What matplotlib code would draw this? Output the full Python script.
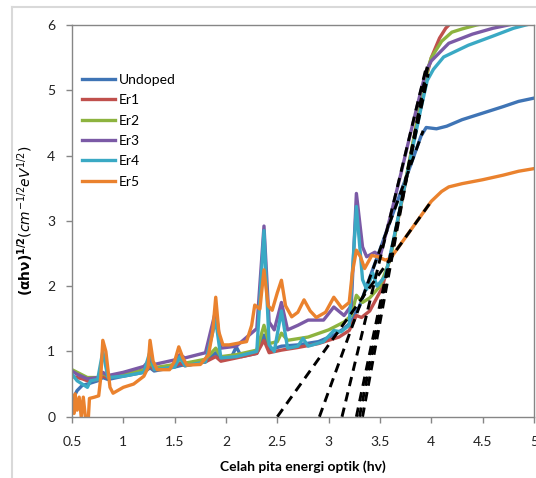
import numpy as np
import matplotlib
matplotlib.use('Agg')
import matplotlib.pyplot as plt
from matplotlib.lines import Line2D

plt.rcParams['font.family'] = ['Lato', 'DejaVu Sans']
plt.rcParams['mathtext.fontset'] = 'dejavusans'

# --- Tauc plot data: photon energy (eV) vs (alpha*h*nu)^(1/2) ---
undoped_x = [0.5, 0.55, 0.6, 0.65, 0.75, 0.8, 0.85, 1.0, 1.2, 1.26, 1.3, 1.5, 1.6, 1.8, 1.9, 1.95,
             2.05, 2.1, 2.15, 2.3, 2.37, 2.42, 2.54, 2.7, 2.9, 3.05, 3.15, 3.22, 3.27, 3.3, 3.4, 3.5,
             3.6, 3.7, 3.8, 3.9, 3.95, 4.05, 4.15, 4.3, 4.5, 4.7, 4.85, 5.0]
undoped_y = [0.25, 0.4, 0.48, 0.5, 0.55, 0.6, 0.57, 0.62, 0.68, 0.75, 0.7, 0.76, 0.8, 0.84, 0.98, 0.86,
             0.9, 1.07, 0.92, 0.97, 1.25, 1.02, 1.08, 1.1, 1.15, 1.25, 1.35, 1.45, 1.62, 1.69, 2.13, 2.56,
             3.0, 3.43, 3.86, 4.3, 4.43, 4.41, 4.45, 4.55, 4.65, 4.75, 4.83, 4.88]

er1_x = [0.5, 0.6, 0.65, 0.75, 0.8, 0.85, 1.0, 1.2, 1.26, 1.3, 1.5, 1.55, 1.6, 1.8, 1.9, 1.95, 2.1,
         2.3, 2.37, 2.42, 2.54, 2.7, 2.9, 3.1, 3.2, 3.27, 3.32, 3.4, 3.52, 3.6, 3.7, 3.8, 3.9, 3.95,
         4.0, 4.08, 4.14, 4.22]
er1_y = [0.62, 0.58, 0.55, 0.57, 0.62, 0.6, 0.64, 0.7, 0.78, 0.72, 0.77, 0.82, 0.78, 0.84, 0.92, 0.85, 0.9,
         0.97, 1.17, 0.98, 1.02, 1.06, 1.12, 1.22, 1.32, 1.55, 1.52, 1.62, 1.97, 2.45, 3.2, 4.0, 4.85, 5.2,
         5.5, 5.8, 5.95, 6.08]

er2_x = [0.5, 0.55, 0.65, 0.75, 0.8, 0.85, 1.0, 1.2, 1.26, 1.3, 1.5, 1.55, 1.6, 1.8, 1.9, 1.95, 2.1,
         2.3, 2.37, 2.42, 2.5, 2.54, 2.6, 2.8, 3.0, 3.15, 3.22, 3.27, 3.33, 3.4, 3.5, 3.6, 3.7, 3.8,
         3.9, 3.97, 4.0, 4.1, 4.2, 4.3, 4.44, 4.6]
er2_y = [0.72, 0.68, 0.6, 0.6, 0.66, 0.62, 0.65, 0.72, 0.82, 0.75, 0.8, 0.88, 0.82, 0.88, 1.05, 0.92, 0.95,
         1.02, 1.4, 1.12, 1.15, 1.28, 1.17, 1.22, 1.33, 1.45, 1.55, 1.86, 1.75, 1.82, 2.0, 2.42, 3.22, 4.03,
         4.84, 5.35, 5.5, 5.75, 5.89, 5.94, 6.0, 6.05]

er3_x = [0.5, 0.55, 0.65, 0.75, 0.8, 0.85, 1.0, 1.2, 1.26, 1.3, 1.5, 1.55, 1.6, 1.8, 1.9, 1.95, 2.1,
         2.3, 2.37, 2.42, 2.47, 2.54, 2.6, 2.7, 2.8, 2.95, 3.05, 3.15, 3.22, 3.27, 3.33, 3.37, 3.45,
         3.5, 3.6, 3.7, 3.8, 3.9, 3.95, 4.0, 4.17, 4.4, 4.6, 4.75, 4.9]
er3_y = [0.7, 0.65, 0.58, 0.6, 0.68, 0.63, 0.68, 0.77, 0.88, 0.8, 0.87, 0.95, 0.9, 0.98, 1.63, 1.05, 1.08,
         1.35, 2.92, 1.45, 1.33, 1.75, 1.33, 1.4, 1.48, 1.48, 1.68, 1.55, 1.7, 3.42, 2.6, 2.45, 2.52,
         2.45, 3.06, 3.7, 4.36, 5.0, 5.3, 5.45, 5.72, 5.86, 5.95, 6.0, 6.05]

er4_x = [0.5, 0.55, 0.6, 0.65, 0.68, 0.75, 0.8, 0.85, 1.0, 1.2, 1.26, 1.3, 1.5, 1.55, 1.6, 1.8, 1.9,
         1.95, 2.1, 2.3, 2.37, 2.42, 2.47, 2.54, 2.6, 2.7, 2.75, 2.8, 2.95, 3.05, 3.12, 3.2, 3.27,
         3.33, 3.37, 3.43, 3.47, 3.55, 3.6, 3.7, 3.8, 3.9, 3.96, 4.02, 4.12, 4.36, 4.6, 4.8, 4.92, 5.0]
er4_y = [0.65, 0.55, 0.5, 0.45, 0.55, 0.57, 1.0, 0.6, 0.62, 0.68, 1.0, 0.72, 0.76, 0.92, 0.78, 0.84, 1.48,
         0.9, 0.92, 1.0, 2.85, 1.1, 1.0, 1.62, 1.05, 1.08, 1.2, 1.08, 1.15, 1.32, 1.3, 1.4, 3.22,
         2.1, 1.95, 2.2, 2.0, 2.15, 2.48, 3.23, 3.98, 4.73, 5.15, 5.32, 5.51, 5.69, 5.83, 5.95, 6.0, 6.03]

er5_x = [0.5, 0.52, 0.53, 0.55, 0.57, 0.59, 0.61, 0.63, 0.66, 0.67, 0.72, 0.76, 0.78, 0.8, 0.83, 0.87,
         0.9, 1.0, 1.1, 1.2, 1.24, 1.26, 1.29, 1.33, 1.45, 1.5, 1.54, 1.58, 1.62, 1.75, 1.83, 1.87,
         1.9, 1.93, 1.97, 2.03, 2.2, 2.25, 2.28, 2.33, 2.37, 2.41, 2.45, 2.5, 2.54, 2.58, 2.64, 2.7,
         2.76, 2.82, 2.88, 2.97, 3.05, 3.13, 3.2, 3.23, 3.27, 3.31, 3.35, 3.42, 3.48, 3.55, 3.6, 3.7,
         3.8, 3.9, 4.0, 4.1, 4.17, 4.3, 4.5, 4.7, 4.85, 5.0]
er5_y = [0.2, 0.05, 0.35, 0.1, 0.3, 0.0, 0.3, 0.0, 0.0, 0.28, 0.3, 0.32, 0.6, 1.17, 1.0, 0.45,
         0.36, 0.45, 0.5, 0.62, 0.75, 1.17, 0.85, 0.72, 0.72, 0.85, 1.07, 0.9, 0.79, 0.8, 0.95, 1.3,
         1.83, 1.3, 1.1, 1.1, 1.15, 1.4, 1.71, 1.65, 2.25, 1.7, 1.63, 1.9, 2.09, 1.7, 1.53, 1.6,
         1.79, 1.62, 1.52, 1.6, 1.83, 1.66, 1.75, 2.2, 2.55, 2.45, 2.27, 2.47, 2.45, 2.4, 2.42, 2.64,
         2.86, 3.08, 3.3, 3.45, 3.52, 3.57, 3.63, 3.7, 3.76, 3.8]

labels = ['Undoped', 'Er1', 'Er2', 'Er3', 'Er4', 'Er5']
colors = ['#3F74B5', '#C0504D', '#8DB33F', '#7B5AA6', '#3AA9C4', '#EA822E']
series_x = [undoped_x, er1_x, er2_x, er3_x, er4_x, er5_x]
series_y = [undoped_y, er1_y, er2_y, er3_y, er4_y, er5_y]

# linear fits of the absorption edge: x-intercept (band gap) and upper end of the fit line
gap_eg = [2.91, 3.33, 3.30, 3.13, 3.27, 2.50]
fit_top_x = [3.92, 3.97, 3.97, 3.95, 3.97, 4.00]
fit_top_y = [4.38, 5.45, 5.40, 5.35, 5.25, 3.30]

fig = plt.figure(figsize=(5.36, 4.78), dpi=100)
ax = fig.add_axes([72 / 536, 1 - 416.7 / 478, 462 / 536, 391.7 / 478])

for xs, ys, c, lab in zip(series_x, series_y, colors, labels):
    ax.plot(xs, ys, color=c, lw=2.4, label=lab, solid_joinstyle='round', zorder=2)

for eg, tx, ty in zip(gap_eg, fit_top_x, fit_top_y):
    ax.plot([eg, tx], [0, ty], color='black', lw=2.1, dashes=(3.2, 2.2), zorder=3)

ax.set_xlim(0.5, 5)
ax.set_ylim(0, 6)
ax.set_xticks(np.arange(0.5, 5.01, 0.5))
ax.set_xticklabels(['0.5', '1', '1.5', '2', '2.5', '3', '3.5', '4', '4.5', '5'])
ax.set_yticks(range(0, 7))

for side in ax.spines.values():
    side.set_color('#868686')
    side.set_linewidth(1.0)
ax.tick_params(direction='out', length=4, width=1.0, color='#868686',
               labelsize=10, labelcolor='#222222')
ax.tick_params(axis='x', pad=10)
ax.tick_params(axis='y', pad=8)

ax.set_xlabel('Celah pita energi optik (hv)', fontsize=10, fontweight='bold', labelpad=9)
ax.set_ylabel(r'$\mathbf{(\alpha h\nu)^{1/2}}$' + r'$(cm^{-1/2}eV^{1/2})$', fontsize=10, labelpad=8)

leg = ax.legend(loc='upper left', bbox_to_anchor=(0.0, 0.9), frameon=False, fontsize=10,
                handlelength=2.4, handletextpad=0.25, labelspacing=0.6, borderaxespad=0.3)
for h in leg.get_lines():
    h.set_linewidth(2.4)

# chart area border
fig.add_artist(Line2D([12 / 536, 12 / 536], [0, 1 - 7 / 478], color='#D9D9D9', lw=1.5))
fig.add_artist(Line2D([12 / 536, 1], [1 - 7 / 478, 1 - 7 / 478], color='#D9D9D9', lw=1.5))

fig.savefig('out.png', dpi=100)
